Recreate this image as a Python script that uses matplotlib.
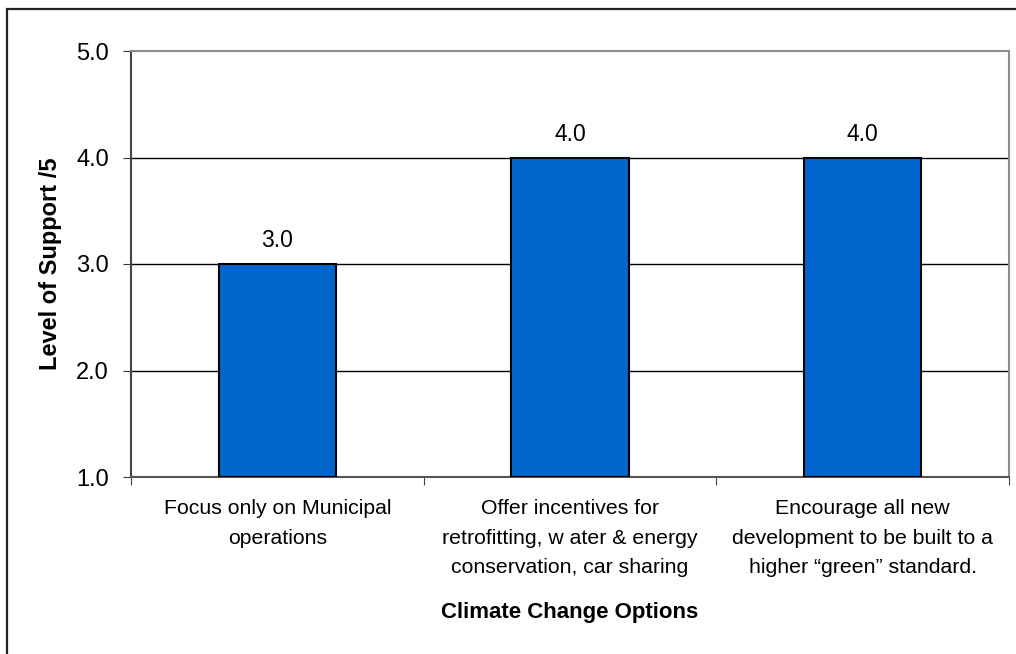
import matplotlib.pyplot as plt
from matplotlib.patches import Rectangle

plt.rcParams['font.family'] = ['Liberation Sans', 'DejaVu Sans']

categories = [
    'Focus only on Municipal\noperations',
    'Offer incentives for\nretrofitting, w ater & energy\nconservation, car sharing',
    'Encourage all new\ndevelopment to be built to a\nhigher \u201cgreen\u201d standard.',
]
support = [3.0, 4.0, 4.0]
y_ticks = [1.0, 2.0, 3.0, 4.0, 5.0]

fig = plt.figure(figsize=(10.16, 6.54), dpi=100)
ax = fig.add_axes([131 / 1016, 1 - 477 / 654, 878 / 1016, 426 / 654])

# outer chart border (only left/top edges visible in the picture)
fig.patches.append(Rectangle((7 / 1016, -0.5), 2, 1 - 9 / 654 + 0.5,
                             transform=fig.transFigure, fill=False,
                             edgecolor='#222222', linewidth=1.6))

x = [0.5, 1.5, 2.5]
for v in y_ticks[1:-1]:
    ax.axhline(v, color='black', linewidth=1.0, zorder=1)

ax.bar(x, [s - 1.0 for s in support], bottom=1.0, width=0.4,
       color='#0066CC', edgecolor='black', linewidth=1.5, zorder=3)
for xi, s in zip(x, support):
    ax.text(xi, s + 0.11, f'{s:.1f}', ha='center', va='bottom', fontsize=16.5)

ax.set_xlim(0, 3)
ax.set_ylim(1.0, 5.0)
ax.set_yticks(y_ticks)
ax.set_yticklabels([f'{v:.1f}' for v in y_ticks], fontsize=17)
ax.set_xticks([0, 1, 2, 3])
ax.set_xticklabels([])
ax.set_xticks(x, minor=True)
ax.set_xticklabels(categories, minor=True, fontsize=15.3, linespacing=1.7)
ax.tick_params(axis='x', which='minor', length=0, pad=16)
ax.tick_params(axis='x', which='major', length=6, color='#444444', direction='out')
ax.tick_params(axis='y', length=6, color='#333333', pad=10)

for side in ['top', 'right']:
    ax.spines[side].set_color('#8c8c8c')
    ax.spines[side].set_linewidth(1.5)
ax.spines['left'].set_color('#444444')
ax.spines['left'].set_linewidth(1.5)
ax.spines['bottom'].set_color('#555555')
ax.spines['bottom'].set_linewidth(1.5)

ax.set_ylabel('Level of Support /5', fontsize=17, fontweight='bold', labelpad=10)
ax.set_xlabel('Climate Change Options', fontsize=16, fontweight='bold', labelpad=18)

fig.savefig('out.png', dpi=100)
